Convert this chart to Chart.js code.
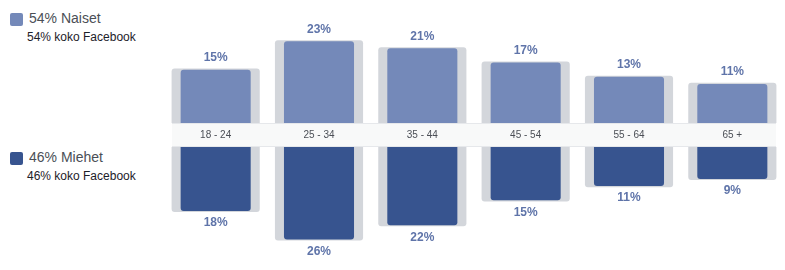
<!DOCTYPE html>
<html>
<head>
<meta charset="utf-8">
<script src="https://cdn.jsdelivr.net/npm/chart.js@4.4.1/dist/chart.umd.min.js"></script>
<style>
    body { margin: 0; background: #fff; font-family: Helvetica, Arial, "Liberation Sans", sans-serif; }
    #wrap { position: relative; width: 785px; height: 270px; overflow: hidden; }
    .band { position: absolute; left: 172px; top: 123px; width: 604px; height: 22px;
            background: #f8f9f9; border-top: 1px solid #e6e8eb; border-bottom: 1px solid #e6e8eb; }
    .legend { position: absolute; left: 10px; }
    .legend .sq { position: absolute; left: 0; top: 0; width: 13px; height: 13px; border-radius: 2px; }
    .legend .main { position: absolute; left: 19px; top: -3px; font-size: 14px; color: #4b4f56; white-space: nowrap; }
    .legend .sub { position: absolute; left: 17px; top: 17px; font-size: 12px; color: #1d2129; white-space: nowrap; }
    canvas { position: absolute; left: 0; }
</style>
</head>
<body>
<div id="wrap">
    <div class="band"></div>
    <div class="legend" style="top:13px">
        <div class="sq" style="background:#7489b9"></div>
        <div class="main">54% Naiset</div>
        <div class="sub">54% koko Facebook</div>
    </div>
    <div class="legend" style="top:152px">
        <div class="sq" style="background:#37548f"></div>
        <div class="main">46% Miehet</div>
        <div class="sub">46% koko Facebook</div>
    </div>
    <canvas id="womenChart" style="top:0" width="785" height="147"></canvas>
    <canvas id="menChart" style="top:147px" width="785" height="123"></canvas>
</div>
<script>
// age groups
const ageGroups = ['18 - 24', '25 - 34', '35 - 44', '45 - 54', '55 - 64', '65 +'];

// share of audience per age group (%)
const women = [15, 23, 21, 17, 13, 11];
const men = [18, 26, 22, 15, 11, 9];

// whole Facebook (grey bars behind)
const fbWomen = [15.3, 23.3, 21.3, 17.3, 13.3, 11.3];
const fbMen = [18.3, 26.3, 22.3, 15.3, 11.3, 9.3];

const yMax = 34.6;
const labelColor = '#5f74a9';
const fontFamily = 'Helvetica, Arial, "Liberation Sans", sans-serif';

// draws the "15%" style labels at the end of the coloured bars
const valueLabels = {
    id: 'valueLabels',
    afterDatasetsDraw(chart) {
        const ctx = chart.ctx;
        const meta = chart.getDatasetMeta(1);
        const reversed = chart.options.scales.y.reverse;
        ctx.save();
        ctx.fillStyle = labelColor;
        ctx.font = 'bold 12px ' + fontFamily;
        ctx.textAlign = 'center';
        ctx.textBaseline = 'middle';
        meta.data.forEach((bar, i) => {
            const v = chart.data.datasets[1].data[i];
            const y = reversed ? bar.y + 12 : bar.y - 12;
            ctx.fillText(v + '%', bar.x, y);
        });
        ctx.restore();
    }
};

function makeChart(id, fbData, data, color, isMen) {
    const ctx = document.getElementById(id).getContext('2d');
    const xScale = {
        display: !isMen,
        position: 'bottom',
        grid: { display: false, drawTicks: false },
        border: { display: false },
        ticks: {
            color: '#4b4f56',
            font: { size: 10, family: fontFamily },
            padding: 6,
            maxRotation: 0
        }
    };
    // age labels sit in the 24px band under the women's bars
    if (!isMen) xScale.afterFit = (scale) => { scale.height = 24; };

    return new Chart(ctx, {
        type: 'bar',
        data: {
            labels: ageGroups,
            datasets: [{
                label: 'koko Facebook',
                data: fbData,
                backgroundColor: '#d3d6db',
                barPercentage: 0.853,
                categoryPercentage: 1,
                borderRadius: 3,
                borderSkipped: 'start',
                grouped: false,
                order: 2
            }, {
                label: isMen ? 'Miehet' : 'Naiset',
                data: data,
                backgroundColor: color,
                barPercentage: 0.678,
                categoryPercentage: 1,
                borderRadius: 3,
                borderSkipped: 'start',
                grouped: false,
                order: 1
            }]
        },
        options: {
            responsive: false,
            animation: false,
            layout: { padding: { left: 164, right: 1, top: 0, bottom: 0 } },
            plugins: { legend: { display: false }, tooltip: { enabled: false } },
            scales: {
                x: xScale,
                y: {
                    display: false,
                    min: 0,
                    max: yMax,
                    reverse: isMen
                }
            }
        },
        plugins: [valueLabels]
    });
}

window.onload = () => {
    makeChart('womenChart', fbWomen, women, '#7489b9', false);
    makeChart('menChart', fbMen, men, '#37548f', true);
};
</script>
</body>
</html>
